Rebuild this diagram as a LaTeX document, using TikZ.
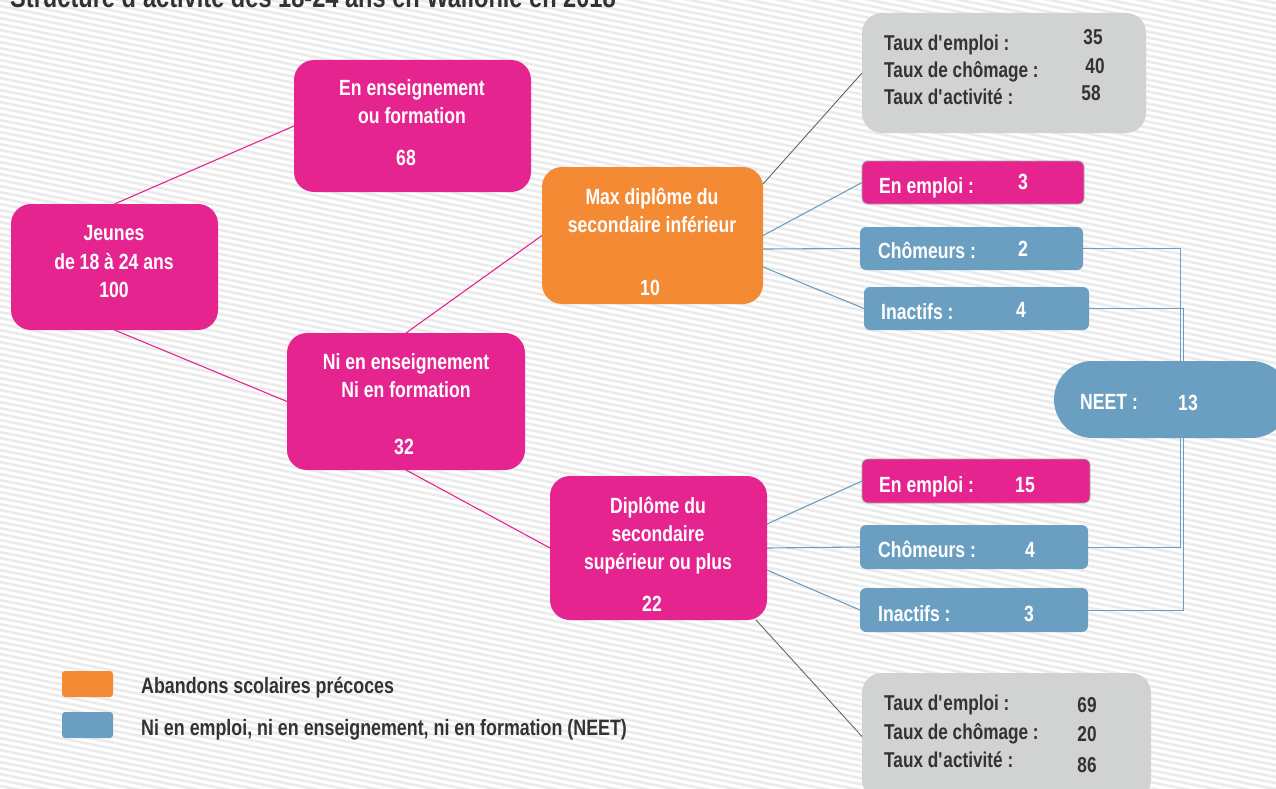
\documentclass[tikz,border=0pt]{standalone}
\usepackage{fontspec}
\setmainfont{Liberation Sans}[FakeStretch=0.8]
\definecolor{pinkc}{HTML}{E6248F}
\definecolor{orangec}{HTML}{F58A34}
\definecolor{bluec}{HTML}{6A9FC1}
\definecolor{grayc}{HTML}{D1D2D2}
\definecolor{stripec}{HTML}{EBEBEB}
\definecolor{darkt}{HTML}{333333}
\definecolor{glinec}{HTML}{666666}
\newcommand{\qs}{\textquotesingle}
\begin{document}
\begin{tikzpicture}[x=1pt,y=-1pt,
  bigbox/.style={rounded corners=20pt, inner sep=0pt, outer sep=0pt},
  smallbox/.style={rounded corners=6pt, inner sep=0pt, outer sep=0pt},
  wt/.style={text=white, inner sep=0pt, anchor=base, font=\bfseries\fontsize{22}{26}\selectfont},
  wtl/.style={wt, anchor=base west},
  dt/.style={text=darkt, inner sep=0pt, anchor=base, font=\bfseries\fontsize{21.5}{25}\selectfont},
  dtl/.style={dt, anchor=base west},
  legt/.style={text=darkt, inner sep=0pt, anchor=base west, font=\bfseries\fontsize{22.3}{26}\selectfont},
  pinkline/.style={draw=pinkc, line width=1.1pt},
  blueline/.style={draw=bluec, line width=1.1pt},
  grayline/.style={draw=glinec, line width=0.9pt},
]
\useasboundingbox (0,0) rectangle (1276,789);
\clip (0,0) rectangle (1276,789);
\fill[white] (0,0) rectangle (1276,789);
% background stripes
\foreach \k in {-400,-394,...,800}{
  \draw[stripec, line width=2.6pt] (-50,\k) -- (1330,\k+276);
}
% title
\node[text=darkt, inner sep=0pt, anchor=base west, font=\bfseries\fontsize{29.5}{32}\selectfont] (title) at (10,8) {Structure d\qs activité des 18-24 ans en Wallonie en 2018};

% main boxes
\node[bigbox, fill=pinkc, minimum width=207pt, minimum height=126pt] (jeunes) at (114.5,267) {};
\node[bigbox, fill=pinkc, minimum width=237pt, minimum height=132pt] (ens) at (412.5,126) {};
\node[bigbox, fill=pinkc, minimum width=238pt, minimum height=137pt] (ni) at (406,401.5) {};
\node[bigbox, fill=orangec, minimum width=221pt, minimum height=137pt] (max) at (652.5,235.5) {};
\node[bigbox, fill=pinkc, minimum width=217pt, minimum height=144pt] (dip) at (658.5,548) {};
\node[bigbox, fill=grayc, minimum width=284pt, minimum height=120pt] (gtop) at (1004,73) {};
\node[bigbox, fill=grayc, minimum width=289pt, minimum height=127pt] (gbot) at (1006.5,736.5) {};

% small boxes
\node[smallbox, fill=pinkc, draw=gray!70, line width=0.8pt, minimum width=222pt, minimum height=43pt] (e1) at (973,182.5) {};
\node[smallbox, fill=bluec, minimum width=223pt, minimum height=43pt] (c1) at (971.5,248.5) {};
\node[smallbox, fill=bluec, minimum width=225pt, minimum height=43pt] (i1) at (976.5,308.5) {};
\node[smallbox, fill=pinkc, draw=gray!70, line width=0.8pt, minimum width=228pt, minimum height=44pt] (e2) at (976,481) {};
\node[smallbox, fill=bluec, minimum width=228pt, minimum height=44pt] (c2) at (974,547) {};
\node[smallbox, fill=bluec, minimum width=228pt, minimum height=44pt] (i2) at (974,610) {};
\node[rounded corners=38.5pt, inner sep=0pt, outer sep=0pt, fill=bluec, minimum width=236pt, minimum height=77pt] (neet) at (1172,399.5) {};

% legend
\node[smallbox, rounded corners=3pt, fill=orangec, minimum width=51pt, minimum height=26pt] (lego) at (87.5,684) {};
\node[smallbox, rounded corners=3pt, fill=bluec, minimum width=51pt, minimum height=26pt] (legb) at (87.5,725) {};

% connectors
\draw[pinkline] (jeunes.north) -- (ens.west);
\draw[pinkline] (jeunes.south) -- (ni.west);
\draw[pinkline] (ni.north) -- (max.west);
\draw[pinkline] (ni.south) -- (dip.west);
\draw[grayline] ([yshift=51.5pt]max.east) -- (gtop.west);
\draw[blueline] (max.east) -- (e1.west);
\draw[blueline] ([yshift=-13.5pt]max.east) -- (c1.west);
\draw[blueline] ([yshift=-31.5pt]max.east) -- (i1.west);
\draw[blueline] ([yshift=24pt]dip.east) -- (e2.west);
\draw[blueline] (dip.east) -- (c2.west);
\draw[blueline] ([yshift=-22pt]dip.east) -- (i2.west);
\draw[grayline] ([xshift=-11pt]dip.south east) -- (gbot.west);
\draw[draw=bluec, line width=0.9pt] (c1.east) -| ([xshift=8pt]neet.north);
\draw[draw=bluec, line width=0.9pt] (i1.east) -| ([xshift=11pt]neet.north);
\draw[draw=bluec, line width=0.9pt] (c2.east) -| ([xshift=8pt]neet.south);
\draw[draw=bluec, line width=0.9pt] (i2.east) -| ([xshift=11pt]neet.south);

% texts in main boxes
\node[wt] (ta1) at (412,96) {En enseignement};
\node[wt] (ta2) at (412,124) {ou formation};
\node[wt] (ta3) at (406,165) {68};
\node[wt] (tb1) at (114,240) {Jeunes};
\node[wt] (tb2) at (114,269) {de 18 à 24 ans};
\node[wt] (tb3) at (114,297) {100};
\node[wt] (tc1) at (406,369) {Ni en enseignement};
\node[wt] (tc2) at (406,397) {Ni en formation};
\node[wt] (tc3) at (404,454) {32};
\node[wt] (td1) at (652,204) {Max diplôme du};
\node[wt] (td2) at (652,232) {secondaire inférieur};
\node[wt] (td3) at (650,295) {10};
\node[wt] (te1) at (658,513) {Diplôme du};
\node[wt] (te2) at (658,541) {secondaire};
\node[wt] (te3) at (658,569) {supérieur ou plus};
\node[wt] (te4) at (652,611) {22};

% gray boxes
\node[dtl] (tf1) at (884,51) {Taux d\qs emploi :};
\node[dtl] (tf2) at (884,78) {Taux de chômage :};
\node[dtl] (tf3) at (884,105) {Taux d\qs activité :};
\node[dt] (tf4) at (1093,45) {35};
\node[dt] (tf5) at (1095,74) {40};
\node[dt] (tf6) at (1091,101) {58};
\node[dtl] (tg1) at (884,710) {Taux d\qs emploi :};
\node[dtl] (tg2) at (884,739) {Taux de chômage :};
\node[dtl] (tg3) at (884,767) {Taux d\qs activité :};
\node[dt] (tg4) at (1087,712) {69};
\node[dt] (tg5) at (1087,741) {20};
\node[dt] (tg6) at (1087,772) {86};

% small box texts
\node[wtl] (th1) at (879,193) {En emploi :};
\node[wt] (th2) at (1023,189) {3};
\node[wtl] (th3) at (878,258) {Chômeurs :};
\node[wt] (th4) at (1023,256) {2};
\node[wtl] (th5) at (881,319) {Inactifs :};
\node[wt] (th6) at (1021,317) {4};
\node[wtl] (ti1) at (879,492) {En emploi :};
\node[wt] (ti2) at (1025,492) {15};
\node[wtl] (ti3) at (878,557) {Chômeurs :};
\node[wt] (ti4) at (1030,557) {4};
\node[wtl] (ti5) at (878,621) {Inactifs :};
\node[wt] (ti6) at (1029,621) {3};
\node[wtl] (tj1) at (1080,409) {NEET :};
\node[wt] (tj2) at (1188,410) {13};

% legend texts
\node[legt] (tk1) at (141,693) {Abandons scolaires précoces};
\node[legt] (tk2) at (141,735) {Ni en emploi, ni en enseignement, ni en formation (NEET)};
\end{tikzpicture}
\end{document}
